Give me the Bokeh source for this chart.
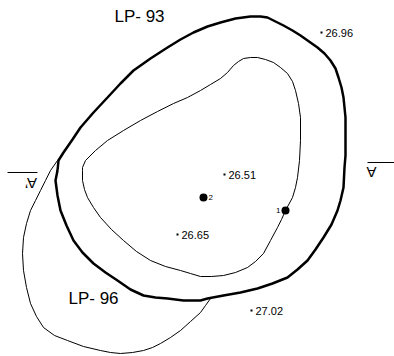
from bokeh.plotting import figure
from bokeh.models import Range1d
from bokeh.core.properties import value
from bokeh.embed import file_html
from bokeh.resources import INLINE
import math

# Contour LP-93 (thick, closed)
lp93_x = [57,58,63,72,80,93,107,120,133,150,167,180,193,207,220,235,250,260,267,275,283,292,300,317,324,330,335,338,341,343,344,345,345,345,344,343,340,337,331,323,315,307,297,287,272,257,240,223,207,200,183,167,155,143,130,117,105,93,82,73,66,60,57,55,57]
lp93_y = [170,160,152,139,127,112,97,83,70,58,47,39,32,26,22,18,16,16,17,21,25,30,35,47,53,60,68,77,87,97,107,117,140,155,167,187,200,210,224,237,249,260,269,277,283,288,292,295,298,300,300,298,297,295,289,280,272,263,252,240,225,210,195,180,170]

# Inner contour (thin, closed)
inner_x = [82,82,85,95,107,123,140,157,173,187,200,210,220,227,233,238,243,250,257,265,273,280,287,292,295,298,300,300,299,297,295,292,285,281,277,270,263,255,247,235,223,211,200,190,180,165,150,136,123,111,100,93,87,84,82,82]
inner_y = [170,167,160,150,140,130,120,111,103,97,90,84,78,72,65,61,58,57,57,59,62,67,73,81,90,103,117,140,160,177,187,197,210,219,227,240,253,261,267,272,275,276,276,273,270,266,260,251,240,229,217,207,197,189,180,170]

# Contour LP-96 (thin, open lower-left part)
lp96_x = [63,57,50,45,40,35,30,26,23,22,23,26,30,36,43,54,67,83,100,110,120,132,143,152,160,170,180,190,200,205,210]
lp96_y = [152,160,170,180,190,200,210,223,237,253,270,287,303,316,327,335,340,346,350,352,353,352,350,347,343,337,330,321,312,305,298]

# Spot values
val_x = [224, 177, 321, 251]
val_y = [174, 234, 32, 310]
val_labels = ["26.51", "26.65", "26.96", "27.02"]

# Numbered points
pt_x = [285, 203]
pt_y = [210, 197]
pt_labels = ["1", "2"]

# Contour labels
clab_x = [139, 93]
clab_y = [16, 298]
clab_text = ["LP- 93", "LP- 96"]

# Section marks (A', A), drawn upside down
sec_x = [30.5, 371]
sec_y = [182.5, 172]
sec_text = ["A\u2019", "A"]
bar_x0 = [7, 367]
bar_x1 = [37, 394]
bar_y = [172, 162]

FONT = value("Liberation Sans")

p = figure(width=394, height=356, output_backend="svg", toolbar_location=None,
           x_range=Range1d(0, 394), y_range=Range1d(356, 0),
           x_axis_location=None, y_axis_location=None, min_border=0)
p.grid.visible = False
p.outline_line_color = None
p.background_fill_color = "white"
p.border_fill_color = "white"

p.line(lp96_x, lp96_y, line_color="black", line_width=1)
p.line(inner_x, inner_y, line_color="black", line_width=1)
p.line(lp93_x, lp93_y, line_color="black", line_width=2.5)

p.scatter(val_x, val_y, marker="square", size=2, fill_color="black", line_color=None)
p.text(val_x, val_y, text=val_labels, x_offset=4, text_font=FONT, text_font_size="11px",
       text_baseline="middle", text_align="left", text_color="black")

p.scatter(pt_x, pt_y, marker="circle", size=8, fill_color="black", line_color=None)
p.text([pt_x[0]], [pt_y[0]], text=[pt_labels[0]], x_offset=-5, text_font=FONT, text_font_size="8px",
       text_baseline="middle", text_align="right", text_color="black")
p.text([pt_x[1]], [pt_y[1]], text=[pt_labels[1]], x_offset=5, text_font=FONT, text_font_size="8px",
       text_baseline="middle", text_align="left", text_color="black")

p.text(clab_x, clab_y, text=clab_text, text_font=FONT, text_font_size="17px",
       text_baseline="middle", text_align="center", text_color="black")

p.text(sec_x, sec_y, text=sec_text, angle=math.pi, text_font=FONT, text_font_size="15px",
       text_baseline="middle", text_align="center", text_color="black")
p.segment(bar_x0, bar_y, bar_x1, bar_y, line_color="black", line_width=1.2)

open("out.html", "w").write(file_html(p, INLINE))
